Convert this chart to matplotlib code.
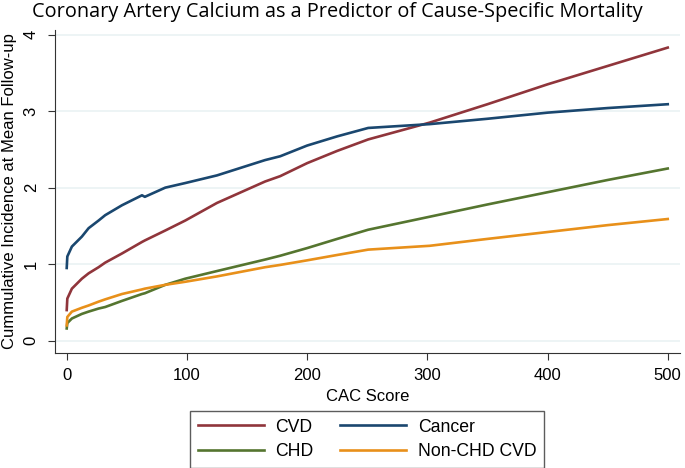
import matplotlib.pyplot as plt

# CAC score grid and cumulative incidence
cac = [0, 0.5, 4.3, 12.6, 18.2, 26.5, 32, 46, 62.6, 65, 82, 98.6,
       125, 165, 177.6, 200, 225, 250.8, 302, 350, 400, 450, 500]

cvd = [0.40, 0.55, 0.68, 0.81, 0.88, 0.96, 1.02, 1.14, 1.29, 1.31, 1.44, 1.57,
       1.80, 2.08, 2.15, 2.32, 2.48, 2.63, 2.85, 3.09, 3.35, 3.59, 3.83]
cancer = [0.95, 1.10, 1.23, 1.36, 1.47, 1.57, 1.64, 1.77, 1.90, 1.88, 2.00, 2.06,
          2.16, 2.36, 2.41, 2.55, 2.67, 2.78, 2.83, 2.90, 2.98, 3.04, 3.09]
chd = [0.16, 0.23, 0.29, 0.35, 0.38, 0.42, 0.44, 0.52, 0.61, 0.62, 0.73, 0.81,
       0.91, 1.06, 1.11, 1.21, 1.33, 1.45, 1.62, 1.78, 1.94, 2.10, 2.25]
non_chd = [0.20, 0.31, 0.38, 0.43, 0.46, 0.51, 0.54, 0.61, 0.67, 0.68, 0.73, 0.77,
           0.84, 0.96, 0.99, 1.05, 1.12, 1.19, 1.24, 1.33, 1.42, 1.51, 1.59]

plt.rcParams['font.family'] = ['Liberation Sans', 'DejaVu Sans']

W, H = 685, 468
fig = plt.figure(figsize=(W / 100, H / 100), dpi=100)
ax = fig.add_axes([55.3 / W, 1 - 352.7 / H, (680 - 55.3) / W, (352.7 - 30) / H])

l1, = ax.plot(cac, cvd, color="#90353b", lw=1.9, label="CVD")
l2, = ax.plot(cac, cancer, color="#1a476f", lw=1.9, label="Cancer")
l3, = ax.plot(cac, chd, color="#55752f", lw=1.9, label="CHD")
l4, = ax.plot(cac, non_chd, color="#e8901a", lw=1.9, label="Non-CHD CVD")

ax.set_xlim(-9.5, 510.2)
ax.set_ylim(-0.157, 4.06)
ax.set_xticks([0, 100, 200, 300, 400, 500])
ax.set_yticks([0, 1, 2, 3, 4])
ax.yaxis.grid(True, color="#eaf2f3", lw=1.2)
ax.set_axisbelow(True)
for s in ["top", "right"]:
    ax.spines[s].set_visible(False)
ax.spines["left"].set_color("#333333")
ax.spines["bottom"].set_color("#333333")
ax.tick_params(axis="both", labelsize=12, length=5, color="#333333")
ax.tick_params(axis="x", pad=6)
ax.tick_params(axis="y", pad=7)
plt.setp(ax.get_yticklabels(), rotation=90, va="center")
ax.set_xlabel("CAC Score", fontsize=12, labelpad=4)
ax.set_ylabel("Cummulative Incidence at Mean Follow-up", fontsize=12, labelpad=5)

fig.text(32 / W, 1 - 12 / H, "Coronary Artery Calcium as a Predictor of Cause-Specific Mortality",
         fontsize=14.3, family=["Open Sans", "DejaVu Sans"], va="center", ha="left")

leg = fig.legend([l1, l3, l2, l4], ["CVD", "CHD", "Cancer", "Non-CHD CVD"], ncol=2,
                 loc="upper center", bbox_to_anchor=(367 / W, 1 - 410.7 / H),
                 fontsize=12.7, frameon=True, fancybox=False, handlelength=3.75,
                 handletextpad=0.65, columnspacing=1.5, borderpad=0.45,
                 labelspacing=0.4, borderaxespad=0)
leg.get_frame().set_edgecolor("#333333")
leg.get_frame().set_linewidth(1.0)

fig.savefig("out.png", dpi=100)
